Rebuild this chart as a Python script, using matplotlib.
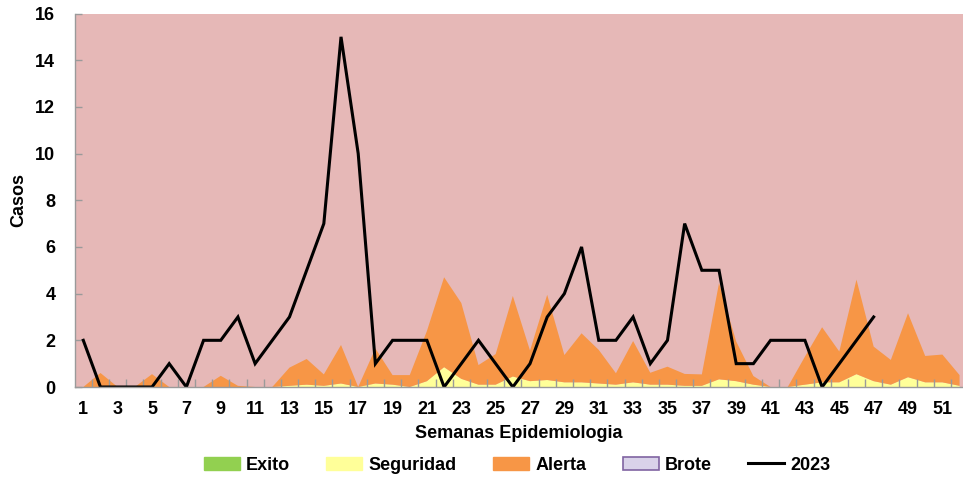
import matplotlib
matplotlib.use("Agg")
import matplotlib.pyplot as plt
from matplotlib.patches import Patch
from matplotlib.lines import Line2D
import numpy as np

weeks = list(range(1, 53))
exito = [0.0] * 52
seguridad = [0, 0, 0, 0, 0, 0, 0, 0, 0, 0, 0, 0, 0.05, 0.1, 0.05, 0.15, 0, 0.15, 0.1, 0,
             0.25, 0.85, 0.35, 0.1, 0.1, 0.45, 0.25, 0.3, 0.2, 0.2, 0.15, 0.1, 0.2, 0.1, 0.1, 0.05,
             0.05, 0.33, 0.25, 0.1, 0, 0, 0.1, 0.2, 0.2, 0.55, 0.25, 0.1, 0.42, 0.2, 0.2, 0.05]
alerta_top = [0, 0.6, 0, 0, 0.55, 0, 0, 0, 0.48, 0.05, 0, 0, 0.83, 1.2, 0.54, 1.8, 0, 1.65, 0.51, 0.51,
              2.4, 4.7, 3.6, 0.94, 1.41, 3.9, 1.56, 3.95, 1.37, 2.3, 1.59, 0.59, 1.97, 0.61, 0.87, 0.56,
              0.54, 4.45, 1.95, 0.47, 0, 0, 1.3, 2.56, 1.52, 4.6, 1.73, 1.16, 3.16, 1.33, 1.39, 0.51]
alerta = [max(t - s, 0) for t, s in zip(alerta_top, seguridad)]
weeks_2023 = list(range(1, 48))
casos_2023 = [2, 0, 0, 0, 0, 1, 0, 2, 2, 3, 1, 2, 3, 5, 7, 15, 10, 1, 2, 2, 2, 0, 1, 2, 1, 0, 1, 3, 4, 6,
              2, 2, 3, 1, 2, 7, 5, 5, 1, 1, 2, 2, 2, 0, 1, 2, 3]
xtick_labels = [str(w) for w in range(1, 53, 2)]

c_exito = "#92D050"
c_seg = "#FFFF99"
c_alerta = "#F79646"
c_brote_bg = "#E6B8B7"
c_brote_leg = "#D9D2E9"

plt.rcParams['font.family'] = ['Liberation Sans', 'DejaVu Sans']
plt.rcParams['font.weight'] = 'bold'

fig = plt.figure(figsize=(9.63, 4.8), dpi=100)
ax = fig.add_axes([74.7 / 963, 1 - 387 / 480, 1 - 74.7 / 963, (387 - 13.5) / 480])
ax.set_facecolor(c_brote_bg)

ax.stackplot(weeks, exito, seguridad, alerta, colors=[c_exito, c_seg, c_alerta], linewidth=0)
ax.plot(weeks_2023, casos_2023, color="black", lw=2.2, solid_joinstyle='miter')

ax.set_xlim(0.5, 52.2)
ax.set_ylim(0, 16)

for s in ['top', 'right']:
    ax.spines[s].set_visible(False)
for s in ['left', 'bottom']:
    ax.spines[s].set_color('#9A9A9A')
    ax.spines[s].set_linewidth(1.0)

ax.set_xticks(list(range(1, 53, 2)))
ax.set_xticklabels(xtick_labels, fontsize=13, fontweight='bold')
ax.tick_params(axis='x', which='major', length=0, pad=10)
ax.set_xticks(np.arange(1.5, 52.5, 1.0), minor=True)
ax.tick_params(axis='x', which='minor', length=6, direction='in', color='#9A9A9A', width=1)

ax.set_yticks(range(0, 17, 2))
ax.set_yticklabels([str(v) for v in range(0, 17, 2)], fontsize=13, fontweight='bold')
ax.tick_params(axis='y', length=5, direction='in', color='#9A9A9A', width=1, pad=14)

ax.set_xlabel("Semanas Epidemiologia", fontsize=13, fontweight='bold', labelpad=5)
ax.set_ylabel("Casos", fontsize=13, fontweight='bold', labelpad=6)

handles = [Patch(facecolor=c_exito, edgecolor=c_exito),
           Patch(facecolor=c_seg, edgecolor=c_seg),
           Patch(facecolor=c_alerta, edgecolor=c_alerta),
           Patch(facecolor=c_brote_leg, edgecolor='#8064A2', linewidth=1.2),
           Line2D([0], [0], color='black', lw=2.2)]
labels = ["Exito", "Seguridad", "Alerta", "Brote", "2023"]
fig.legend(handles, labels, loc='center', bbox_to_anchor=(0.537, 0.031), ncol=5, frameon=False,
           prop={'size': 13, 'weight': 'bold'}, handlelength=2.0, handleheight=0.75,
           handletextpad=0.35, columnspacing=2.0)

fig.savefig("out.png", dpi=100)
